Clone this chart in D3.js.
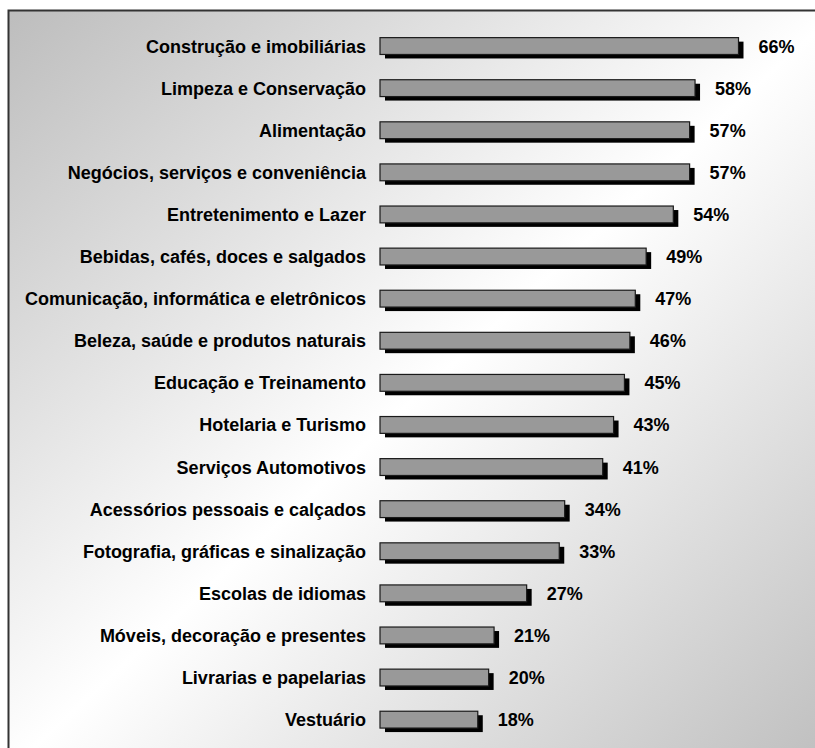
<!DOCTYPE html>
<html lang="pt">
<head>
<meta charset="UTF-8">
<script src="https://d3js.org/d3.v7.min.js"></script>
<style>
  body { margin: 0; background: #fff; }
  svg { display: block; }
</style>
</head>
<body>
<svg></svg>
<script>
    // data
    let categories = [
        "Construção e imobiliárias",
        "Limpeza e Conservação",
        "Alimentação",
        "Negócios, serviços e conveniência",
        "Entretenimento e Lazer",
        "Bebidas, cafés, doces e salgados",
        "Comunicação, informática e eletrônicos",
        "Beleza, saúde e produtos naturais",
        "Educação e Treinamento",
        "Hotelaria e Turismo",
        "Serviços Automotivos",
        "Acessórios pessoais e calçados",
        "Fotografia, gráficas e sinalização",
        "Escolas de idiomas",
        "Móveis, decoração e presentes",
        "Livrarias e papelarias",
        "Vestuário"
    ];
    let values = [66, 58, 57, 57, 54, 49, 47, 46, 45, 43, 41, 34, 33, 27, 21, 20, 18];
    let valueLabels = values.map(v => v + "%");

    let width = 815, height = 748;

    let svg = d3.select("svg")
        .attr("width", width)
        .attr("height", height);

    // diagonal gray -> white -> gray background
    let defs = svg.append("defs");
    let grad = defs.append("linearGradient")
        .attr("id", "bg")
        .attr("x1", "0").attr("y1", "0")
        .attr("x2", "1").attr("y2", "1");
    grad.append("stop").attr("offset", "0%").attr("stop-color", "#bdbdbd");
    grad.append("stop").attr("offset", "50%").attr("stop-color", "#ffffff");
    grad.append("stop").attr("offset", "100%").attr("stop-color", "#bdbdbd");

    svg.append("rect")
        .attr("x", 8.5)
        .attr("y", 10.5)
        .attr("width", 830)
        .attr("height", 760)
        .attr("fill", "url(#bg)")
        .attr("stroke", "#333")
        .attr("stroke-width", 2);

    // scales
    let x = d3.scaleLinear()
        .domain([0, 66])
        .range([380, 738.5]);

    let y = d3.scaleBand()
        .domain(categories)
        .range([25, 25 + 42.1 * categories.length])
        .paddingInner(0.6)
        .paddingOuter(0.3);

    let rows = svg.append("g")
        .selectAll("g")
        .data(categories)
        .enter()
        .append("g");

    // shadow
    rows.append("rect")
        .attr("x", d => x(0) + 5)
        .attr("y", d => y(d) + 4)
        .attr("width", (d, i) => x(values[i]) - x(0))
        .attr("height", y.bandwidth())
        .attr("fill", "#000");

    // bar
    rows.append("rect")
        .attr("x", x(0))
        .attr("y", d => y(d))
        .attr("width", (d, i) => x(values[i]) - x(0))
        .attr("height", y.bandwidth())
        .attr("fill", "#999999")
        .attr("stroke", "#1a1a1a")
        .attr("stroke-width", 1.2);

    // category labels
    rows.append("text")
        .attr("x", 366)
        .attr("y", d => y(d) + y.bandwidth() / 2)
        .attr("dy", "0.36em")
        .attr("text-anchor", "end")
        .style("font-family", "'Liberation Sans', Arial, sans-serif")
        .style("font-weight", "bold")
        .style("font-size", "18px")
        .style("fill", "#000")
        .text(d => d);

    // value labels
    rows.append("text")
        .attr("x", (d, i) => x(values[i]) + 20)
        .attr("y", d => y(d) + y.bandwidth() / 2)
        .attr("dy", "0.36em")
        .style("font-family", "'Liberation Sans', Arial, sans-serif")
        .style("font-weight", "bold")
        .style("font-size", "18px")
        .style("fill", "#000")
        .text((d, i) => valueLabels[i]);
</script>
</body>
</html>
